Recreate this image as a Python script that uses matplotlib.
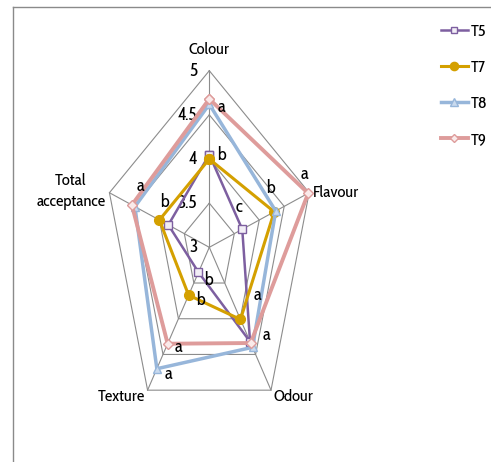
import numpy as np
import matplotlib
matplotlib.use('Agg')
import matplotlib.pyplot as plt
from matplotlib.lines import Line2D

plt.rcParams['font.family'] = ['Cabin Condensed', 'DejaVu Sans']

# data
categories = ['Colour', 'Flavour', 'Odour', 'Texture', 'Total\nacceptance']
series = ['T5', 'T7', 'T8', 'T9']
t5 = [4.05, 3.66, 4.32, 3.35, 3.82]
t7 = [4.00, 4.30, 4.01, 3.67, 4.00]
t8 = [4.62, 4.33, 4.40, 4.70, 4.49]
t9 = [4.68, 4.98, 4.34, 4.35, 4.55]
ticks = [3, 3.5, 4, 4.5, 5]
tick_labels = ['3', '3.5', '4', '4.5', '5']
# significance letters: (category, series, letter)
letters = [(0, 3, 'a'), (0, 0, 'b'),
           (1, 3, 'a'), (1, 2, 'b'), (1, 0, 'c'),
           (2, 1, 'a'), (2, 3, 'a'),
           (3, 3, 'a'), (3, 2, 'a'), (3, 0, 'b'), (3, 1, 'b'),
           (4, 3, 'a'), (4, 1, 'b')]

# styling
letter_off = [(12, -8), (12, 0), (-4, 19), (-5, 23), (-3, 22), (17, 24), (16, 8),
              (11, -3), (12, -5), (10, -8), (12, -5), (9, 19), (5, 18)]
label_off = [((0, 21), 'center'), ((4, 0), 'left'), ((2, -7), 'left'),
             ((-3, -7), 'right'), ((-4, 1), 'right')]
styles = [dict(color='#7D5FA0', lw=1.8, marker='s', ms=5.5, mfc='#F2EEF6', mec='#7D5FA0', mew=1),
          dict(color='#D4A000', lw=2.2, marker='o', ms=7, mfc='#D4A000', mec='#D4A000'),
          dict(color='#97B6DA', lw=2.5, marker='^', ms=6, mfc='#C9DAEE', mec='#97B6DA', mew=1),
          dict(color='#DE9C9B', lw=2.8, marker='D', ms=5, mfc='#FAEAEA', mec='#DE9C9B', mew=1)]
grid_col = '#8C8C8C'
fs = 12

W, H = 491, 462
cx, cy = 209.3, 247.3      # centre in pixels
sx, sy = 52.5, 88.3        # pixels per unit (chart is squeezed sideways)
base = ticks[0]

fig = plt.figure(figsize=(W / 100, H / 100), dpi=100)
ax = fig.add_axes([0, 0, 1, 1])
ax.set_xlim(-cx / sx, (W - cx) / sx)
ax.set_ylim((cy - H) / sy, cy / sy)
ax.axis('off')

theta = np.deg2rad(90 - 72 * np.arange(len(categories)))

def xy(vals):
    r = np.asarray(vals) - base
    return r * np.cos(theta), r * np.sin(theta)

# grid pentagons and spokes
for t in ticks[1:]:
    gx, gy = xy([t] * len(categories))
    ax.plot(np.append(gx, gx[0]), np.append(gy, gy[0]), color=grid_col, lw=0.8, zorder=1)
ox, oy = xy([ticks[-1]] * len(categories))
for i in range(len(categories)):
    ax.plot([0, ox[i]], [0, oy[i]], color=grid_col, lw=0.8, zorder=1)

# tick labels along the Colour axis
for t, lab in zip(ticks, tick_labels):
    ax.annotate(lab, (0, t - base), xytext=(-12, 0), textcoords='offset pixels',
                ha='right', va='center', fontsize=fs + 1)

# category labels
for i, cat in enumerate(categories):
    off, ha = label_off[i]
    ax.annotate(cat, (ox[i], oy[i]), xytext=off, textcoords='offset pixels',
                ha=ha, va='center', multialignment='center', fontsize=fs,
                linespacing=1.45)

# series
data = [t5, t7, t8, t9]
handles = []
for k, vals in enumerate(data):
    px, py = xy(vals)
    h, = ax.plot(np.append(px, px[0]), np.append(py, py[0]), label=series[k],
                 zorder=3 + k, clip_on=False, **styles[k])
    handles.append(h)

# letters
for (c, s, lt), off in zip(letters, letter_off):
    px, py = xy(data[s])
    ax.annotate(lt, (px[c], py[c]), xytext=off, textcoords='offset pixels',
                ha='center', va='center', fontsize=fs + 1, zorder=10)

leg = ax.legend(handles=handles, loc='upper left', bbox_to_anchor=(441 / W, 1 - 24 / H),
                bbox_transform=fig.transFigure, frameon=False, handlelength=1.6,
                handletextpad=0.2, labelspacing=1.2, borderaxespad=0, borderpad=0,
                fontsize=fs, markerscale=0.85)

# chart area border (cropped on right and bottom)
fig.add_artist(Line2D([13.3 / W, 1], [1 - 6.7 / H] * 2, color='#8A8A8A', lw=1))
fig.add_artist(Line2D([13.3 / W] * 2, [0, 1 - 6.7 / H], color='#8A8A8A', lw=1))

fig.savefig('out.png', dpi=100)
